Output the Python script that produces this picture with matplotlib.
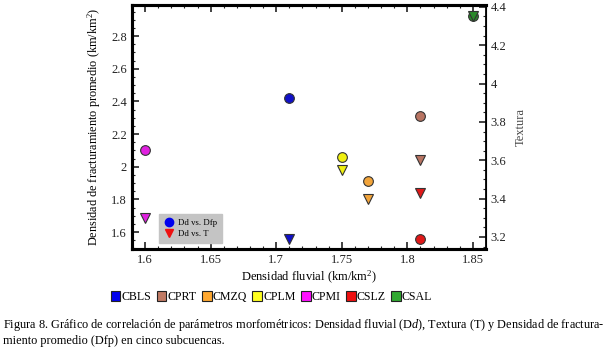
import matplotlib.pyplot as plt
from matplotlib.patches import Patch
from matplotlib.lines import Line2D
from matplotlib.ticker import MultipleLocator

plt.rcParams['font.family'] = ['Liberation Serif', 'DejaVu Serif']
plt.rcParams['mathtext.fontset'] = 'custom'
plt.rcParams['mathtext.rm'] = 'Liberation Serif'
plt.rcParams['mathtext.it'] = 'Liberation Serif:italic'

cuencas = ['CBLS', 'CPRT', 'CMZQ', 'CPLM', 'CPMI', 'CSLZ', 'CSAL']
dd = [1.71, 1.81, 1.77, 1.75, 1.60, 1.81, 1.85]
dfp = [2.42, 2.31, 1.91, 2.06, 2.10, 1.56, 2.92]
textura = [3.19, 3.60, 3.40, 3.55, 3.30, 3.43, 4.35]
colores = ['#1010c8', '#b87462', '#f2a43a', '#f0f010', '#e020e0', '#e01818', '#2a8a2a']
leyenda_col = ['#0000ee', '#c07a64', '#ffa830', '#ffff20', '#ff10ff', '#ee1010', '#30a830']

fig = plt.figure(figsize=(6.09, 3.52), dpi=100)
ax = fig.add_axes([0.2167, 0.2926, 0.5813, 0.6932])
ax2 = ax.twinx()

for i in range(len(cuencas)):
    ax.plot(dd[i], dfp[i], 'o', ms=7, mfc=colores[i], mec='#333333', mew=0.8, zorder=3)
    ax2.plot(dd[i], textura[i], 'v', ms=7, mfc=colores[i], mec='#333333', mew=0.8, zorder=3)

ax.set_xlim(1.59, 1.86)
ax.set_ylim(1.496, 2.99)
ax2.set_ylim(3.137, 4.41)

ax.xaxis.set_major_locator(MultipleLocator(0.05))
ax.xaxis.set_minor_locator(MultipleLocator(0.01))
ax.yaxis.set_major_locator(MultipleLocator(0.2))
ax.yaxis.set_minor_locator(MultipleLocator(0.05))
ax2.yaxis.set_major_locator(MultipleLocator(0.2))
ax2.yaxis.set_minor_locator(MultipleLocator(0.05))

ax.xaxis.set_major_formatter(plt.FuncFormatter(lambda v, p: f'{v:g}'))
ax.yaxis.set_major_formatter(plt.FuncFormatter(lambda v, p: f'{v:g}'))
ax2.yaxis.set_major_formatter(plt.FuncFormatter(lambda v, p: f'{v:g}'))

ax.tick_params(which='both', direction='in', labelsize=9, colors='#222222')
ax.tick_params(axis='x', which='both', top=True, labeltop=False)
ax.tick_params(which='major', length=5, width=1.2)
ax.tick_params(which='minor', length=2.5, width=0.8)
ax.tick_params(axis='y', which='both', right=False)
ax2.tick_params(which='both', direction='in', labelsize=9, colors='#222222')
ax2.tick_params(which='major', length=5, width=1.2)
ax2.tick_params(which='minor', length=2.5, width=0.8)

for s in ['left', 'top', 'bottom']:
    ax.spines[s].set_linewidth(2.2)
    ax2.spines[s].set_linewidth(2.2)
ax2.spines['right'].set_linewidth(1.3)

ax.set_xlabel('Densidad fluvial (km/km$^2$)', fontsize=9, labelpad=2)
ax.set_ylabel('Densidad de fracturamiento promedio (km/km$^2$)', fontsize=8.8, labelpad=6)
ax2.set_ylabel('Textura', fontsize=9, color='#444444', labelpad=6)

h_in = [Line2D([], [], ls='', marker='o', ms=6, mfc='#0000ee', mec='#0000ee'),
        Line2D([], [], ls='', marker='v', ms=6, mfc='#ee1010', mec='#ee1010')]
leg = ax2.legend(h_in, ['Dd vs. Dfp', 'Dd vs. T'], loc='lower left',
                 bbox_to_anchor=(0.075, 0.025), fontsize=6.3, frameon=True,
                 fancybox=False, handletextpad=0.4, borderpad=0.55,
                 labelspacing=0.35, handlelength=1.3, borderaxespad=0)
leg.get_frame().set_facecolor('#c4c4c4')
leg.get_frame().set_edgecolor('#c4c4c4')
leg.get_frame().set_alpha(1)

h_out = [Patch(facecolor=c, edgecolor='#222222', lw=0.8) for c in leyenda_col]
fig.legend(h_out, cuencas, loc='center', bbox_to_anchor=(0.446, 0.156), ncol=7,
           frameon=False, fontsize=8.6, handlelength=0.8, handleheight=0.8,
           handletextpad=0.1, columnspacing=0.45)

fig.text(0.005, 0.068, 'Figura 8. Gráfico de correlación de parámetros morfométricos: Densidad fluvial (D$\\it{d}$), '
         'Textura (T) y Densidad de fractura-', fontsize=8.85)
fig.text(0.005, 0.022, 'miento promedio (Dfp) en cinco subcuencas.', fontsize=8.85)

fig.savefig('out.png', dpi=100)
